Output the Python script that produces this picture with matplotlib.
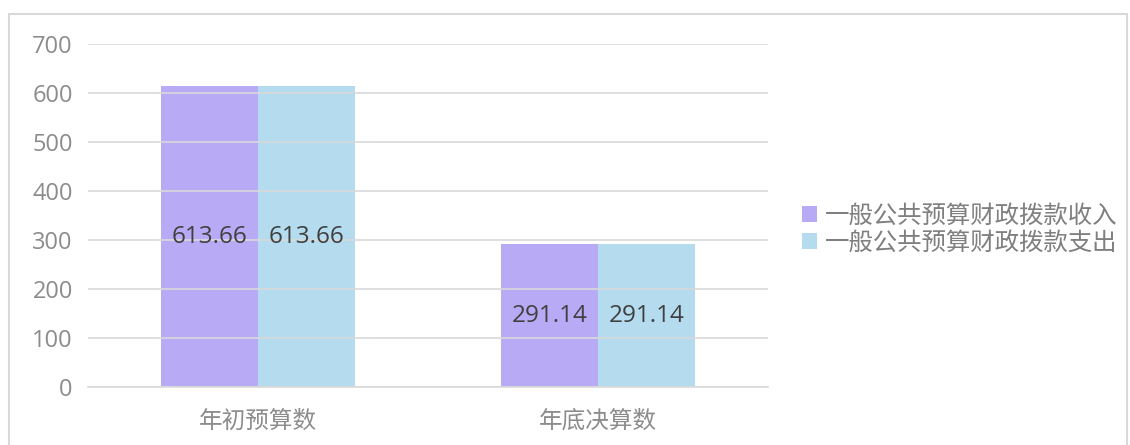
import numpy as np
import matplotlib.pyplot as plt
from matplotlib.patches import Rectangle

plt.rcParams['font.family'] = ['Open Sans', 'Noto Sans CJK SC', 'DejaVu Sans']

categories = ['年初预算数', '年底决算数']
series_names = ['一般公共预算财政拨款收入', '一般公共预算财政拨款支出']
income = [613.66, 291.14]
expense = [613.66, 291.14]
yticks = [0, 100, 200, 300, 400, 500, 600, 700]

colors = ['#b5a6f5', '#b0daee']

fig = plt.figure(figsize=(11.3, 4.45), dpi=100)
ax = fig.add_axes([0.078, 0.130, 0.602, 0.771])

x = np.arange(len(categories))
w = 0.285
bars1 = ax.bar(x - w / 2, income, w, color=colors[0], alpha=0.95, zorder=1, label=series_names[0])
bars2 = ax.bar(x + w / 2, expense, w, color=colors[1], alpha=0.95, zorder=1, label=series_names[1])

for bars, vals in [(bars1, income), (bars2, expense)]:
    for b, v in zip(bars, vals):
        ax.text(b.get_x() + b.get_width() / 2, v / 2, f'{v:.2f}', ha='center', va='center',
                fontsize=17.5, color='#404040', zorder=3)

ax.set_xlim(-0.5, 1.5)
ax.set_ylim(0, 700)
ax.set_yticks(yticks)
ax.set_xticks(x)
ax.set_xticklabels(categories)
ax.tick_params(axis='both', length=0, labelsize=17, labelcolor='#8c8c8c')
ax.tick_params(axis='y', pad=11)
ax.tick_params(axis='x', pad=16)
ax.grid(axis='y', color='#d9d9d9', linewidth=1.2, zorder=2)
ax.set_axisbelow(False)
for s in ['top', 'right', 'left']:
    ax.spines[s].set_visible(False)
ax.spines['bottom'].set_color('#d9d9d9')
ax.spines['bottom'].set_linewidth(1.2)

leg = fig.legend(handles=[bars1, bars2], loc='center left', bbox_to_anchor=(0.690, 0.483),
                 frameon=False, fontsize=17.6, handlelength=0.62, handleheight=0.62,
                 handletextpad=0.33, labelspacing=0.12)
for t in leg.get_texts():
    t.set_color('#7f7f7f')

fig.patches.append(Rectangle((9 / 1130, -0.05), 1118 / 1130, 1 - 14 / 445 + 0.05,
                             transform=fig.transFigure, fill=False,
                             edgecolor='#d9d9d9', linewidth=1.5))

fig.savefig('out.png', dpi=100)
